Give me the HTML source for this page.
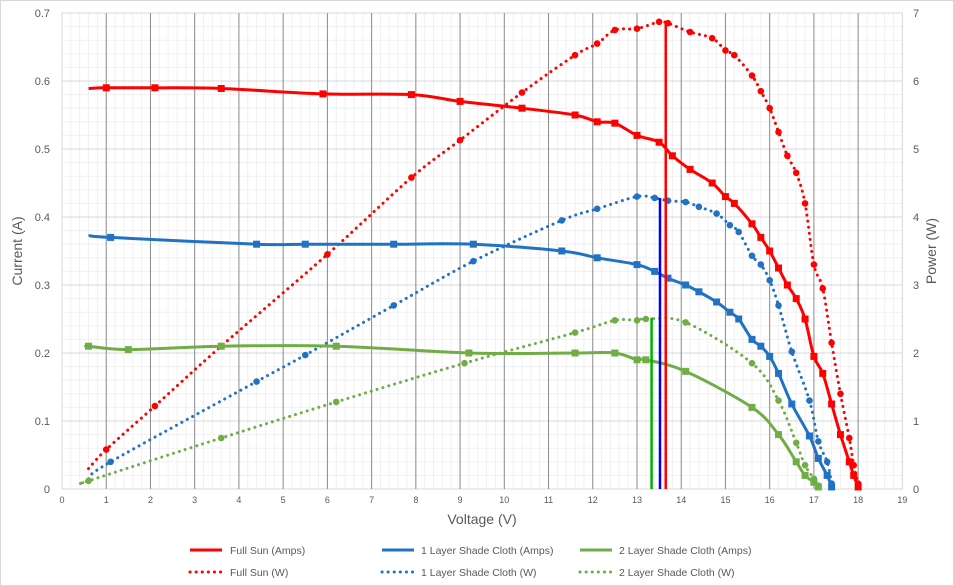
<!DOCTYPE html>
<html><head><style>
html,body{margin:0;padding:0;background:#fff}
svg{display:block;font-family:"Liberation Sans",sans-serif}
</style></head><body>
<svg id="s" width="954" height="586" xmlns="http://www.w3.org/2000/svg">
<rect x="0.5" y="0.5" width="953" height="585" fill="#fff" stroke="#d9d9d9"/>
<g id="grid"></g>
<g id="series"></g>
<text x="22" y="251" font-size="14" fill="#595959" text-anchor="middle" transform="rotate(-90 22 251)">Current (A)</text>
<text x="936" y="251" font-size="14" fill="#595959" text-anchor="middle" transform="rotate(-90 936 251)">Power (W)</text>
<text x="482" y="524" font-size="14" fill="#595959" text-anchor="middle">Voltage (V)</text>
<g font-size="10.5" fill="#595959">
<line x1="190" y1="550" x2="222" y2="550" stroke="#ff0000" stroke-width="3"/>
<text x="230" y="554">Full Sun (Amps)</text>
<line x1="190" y1="572" x2="222" y2="572" stroke="#ff0000" stroke-width="3" stroke-dasharray="0.1 6" stroke-linecap="round"/>
<text x="230" y="576">Full Sun (W)</text>
<line x1="382" y1="550" x2="414" y2="550" stroke="#2272c4" stroke-width="3"/>
<text x="421" y="554">1 Layer Shade Cloth (Amps)</text>
<line x1="382" y1="572" x2="414" y2="572" stroke="#2272c4" stroke-width="3" stroke-dasharray="0.1 6" stroke-linecap="round"/>
<text x="421" y="576">1 Layer Shade Cloth (W)</text>
<line x1="580" y1="550" x2="612" y2="550" stroke="#70ad47" stroke-width="3"/>
<text x="619" y="554">2 Layer Shade Cloth (Amps)</text>
<line x1="580" y1="572" x2="612" y2="572" stroke="#70ad47" stroke-width="3" stroke-dasharray="0.1 6" stroke-linecap="round"/>
<text x="619" y="576">2 Layer Shade Cloth (W)</text>
</g>
</svg>
<script>
var NS="http://www.w3.org/2000/svg";
var X0=62,XU=44.23,Y0=489,YU=680;
function X(v){return X0+v*XU}
function YA(a){return Y0-a*YU}
function YW(w){return Y0-w*YU/10}
function el(p,t,a){var e=document.createElementNS(NS,t);for(var k in a)e.setAttribute(k,a[k]);p.appendChild(e);return e}
var g=document.getElementById('grid');
for(var i=0;i<=95;i++){var x=X(i*0.2);el(g,'line',{x1:x,x2:x,y1:13,y2:489,stroke:'#f0f0f0','stroke-width':1});}
for(var j=0;j<=35;j++){var y=YA(j*0.02);el(g,'line',{x1:62,x2:903,y1:y,y2:y,stroke:'#f0f0f0','stroke-width':1});}
for(var j=0;j<=7;j++){var y=YA(j*0.1);el(g,'line',{x1:62,x2:903,y1:y,y2:y,stroke:'#d9d9d9','stroke-width':1});
 el(g,'text',{x:50,y:y+4,'font-size':11,fill:'#595959','text-anchor':'end'}).textContent=(j==0?'0':(j/10).toFixed(1));
 el(g,'text',{x:913,y:y+4,'font-size':11,fill:'#595959'}).textContent=j;}
for(var i=0;i<=19;i++){var x=X(i);el(g,'line',{x1:x,x2:x,y1:13,y2:489,stroke:(i==0||i==19)?'#d9d9d9':'#8c8c8c','stroke-width':1});
 el(g,'text',{x:x,y:503,'font-size':9,fill:'#595959','text-anchor':'middle'}).textContent=i;}
var s=document.getElementById('series');
function path(pts){var d='M'+pts[0][0]+' '+pts[0][1];for(var i=0;i<pts.length-1;i++){var p0=pts[Math.max(0,i-1)],p1=pts[i],p2=pts[i+1],p3=pts[Math.min(pts.length-1,i+2)];
 var t=6;d+=' C'+(p1[0]+(p2[0]-p0[0])/t)+' '+(p1[1]+(p2[1]-p0[1])/t)+' '+(p2[0]-(p3[0]-p1[0])/t)+' '+(p2[1]-(p3[1]-p1[1])/t)+' '+p2[0]+' '+p2[1];}return d}
function series(data,col,amps){var pts=data.map(function(p){return [X(p[0]),amps?YA(p[1]):YW(p[1])]});
 el(s,'path',{d:path(pts),fill:'none',stroke:col,'stroke-width':3,'stroke-dasharray':amps?'':'0.1 6','stroke-linecap':amps?'butt':'round'});
 pts.slice(1).forEach(function(p){if(amps)el(s,'rect',{x:p[0]-3.5,y:p[1]-3.5,width:7,height:7,fill:col});else el(s,'circle',{cx:p[0],cy:p[1],r:3.3,fill:col});});}
var R='#ff0000',B='#2272c4',G='#70ad47';
series([[0.6,0.589],[1,0.59],[2.1,0.59],[3.6,0.589],[5.9,0.581],[7.9,0.58],[9,0.57],[10.4,0.56],[11.6,0.55],[12.1,0.54],[12.5,0.538],[13,0.52],[13.5,0.51],[13.8,0.49],[14.2,0.47],[14.7,0.45],[15,0.43],[15.2,0.42],[15.6,0.39],[15.8,0.37],[16,0.35],[16.2,0.325],[16.4,0.3],[16.6,0.28],[16.8,0.25],[17,0.195],[17.2,0.17],[17.4,0.125],[17.6,0.08],[17.8,0.04],[17.9,0.02],[18,0.003]],R,true);
series([[0.6,0.3],[1,0.58],[2.1,1.22],[3.6,2.1],[6,3.45],[7.9,4.58],[9,5.13],[10.4,5.83],[11.6,6.38],[12.1,6.55],[12.5,6.75],[13,6.77],[13.5,6.87],[13.7,6.85],[14.2,6.72],[14.7,6.63],[15,6.45],[15.2,6.38],[15.6,6.08],[15.8,5.85],[16,5.6],[16.2,5.25],[16.4,4.9],[16.6,4.65],[16.8,4.2],[17,3.3],[17.2,2.95],[17.4,2.15],[17.6,1.4],[17.8,0.75],[17.9,0.35],[18,0.08]],R,false);
series([[0.6,0.373],[1.1,0.37],[4.4,0.36],[5.5,0.36],[7.5,0.36],[9.3,0.36],[11.3,0.35],[12.1,0.34],[13,0.33],[13.4,0.32],[13.7,0.31],[14.1,0.3],[14.4,0.29],[14.8,0.275],[15.1,0.26],[15.3,0.25],[15.6,0.22],[15.8,0.21],[16,0.195],[16.2,0.17],[16.5,0.125],[16.9,0.078],[17.1,0.045],[17.3,0.02],[17.4,0.003]],B,true);
series([[0.6,0.15],[1.1,0.4],[4.4,1.58],[5.5,1.97],[7.5,2.7],[9.3,3.35],[11.3,3.95],[12.1,4.12],[13,4.3],[13.4,4.28],[13.7,4.24],[14.1,4.22],[14.4,4.15],[14.8,4.05],[15.1,3.88],[15.3,3.78],[15.6,3.43],[15.8,3.3],[16,3.07],[16.2,2.7],[16.5,2.02],[16.9,1.3],[17.1,0.7],[17.3,0.4],[17.4,0.08]],B,false);
series([[0.6,0.21],[0.6,0.21],[1.5,0.205],[3.6,0.21],[6.2,0.21],[9.2,0.2],[11.6,0.2],[12.5,0.2],[13,0.19],[13.2,0.19],[14.1,0.173],[15.6,0.12],[16.2,0.08],[16.6,0.04],[16.8,0.02],[17,0.01],[17.1,0.003]],G,true);
series([[0.6,0.12],[0.6,0.12],[3.6,0.75],[6.2,1.28],[9.1,1.85],[11.6,2.3],[12.5,2.48],[13,2.48],[13.2,2.5],[14.1,2.45],[15.6,1.85],[16.2,1.3],[16.6,0.68],[16.8,0.35],[17,0.15],[17.1,0.05]],G,false);
el(s,'line',{x1:X(13.65),x2:X(13.65),y1:489,y2:YW(6.87),stroke:R,'stroke-width':2.5});
el(s,'line',{x1:X(13.52),x2:X(13.52),y1:489,y2:YW(4.28),stroke:'#0000ff','stroke-width':2.5});
el(s,'line',{x1:X(13.33),x2:X(13.33),y1:489,y2:YW(2.52),stroke:'#00b000','stroke-width':2.5});
</script>
</body></html>
